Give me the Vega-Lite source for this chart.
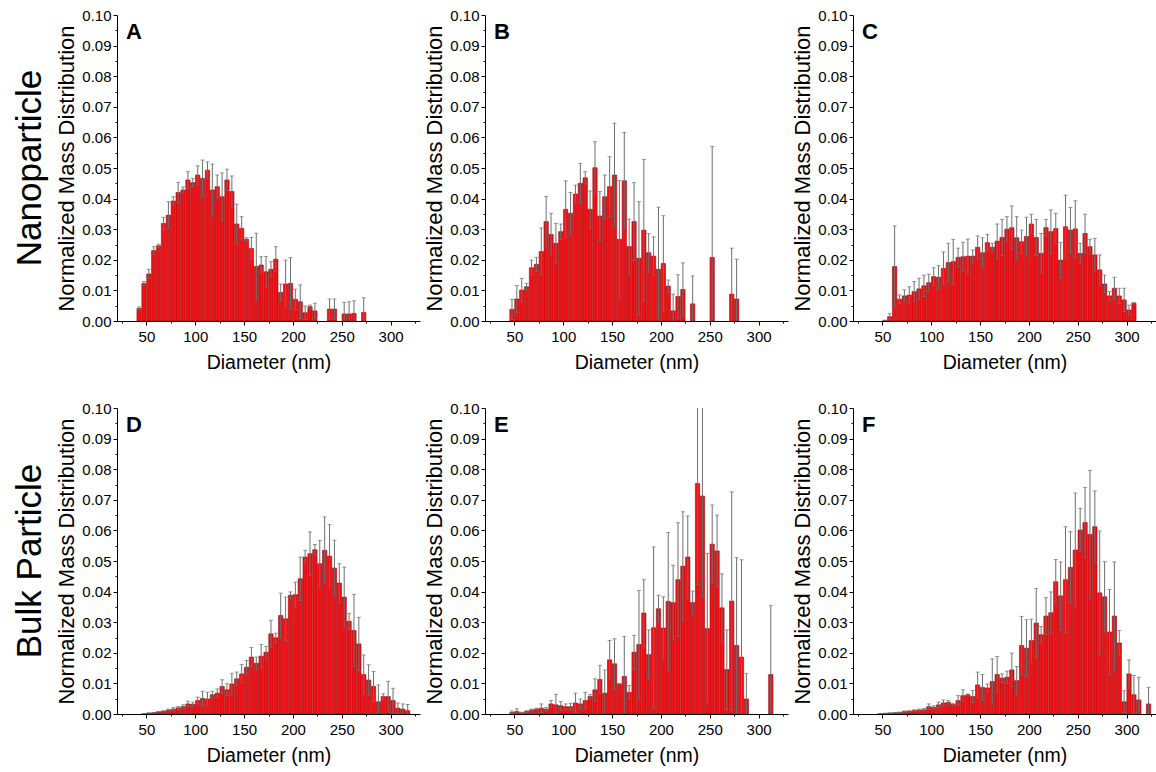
{
  "$schema": "https://vega.github.io/schema/vega-lite/v6.json",
  "background": "white",
  "padding": {"left": 12, "top": 8, "right": 0, "bottom": 5},
  "config": {
    "font": "Liberation Sans",
    "view": {"stroke": null},
    "axis": {
      "grid": false,
      "domainColor": "#000",
      "tickColor": "#000",
      "labelColor": "#000",
      "titleColor": "#000",
      "labelFont": "Liberation Sans",
      "titleFont": "Liberation Sans",
      "labelFontSize": 15,
      "titleFontWeight": "normal",
      "domainWidth": 1,
      "tickWidth": 1,
      "labelOverlap": false,
      "labelFlush": false,
      "labelBound": false
    },
    "axisX": {"titleFontSize": 19.5, "labelPadding": 4, "titlePadding": 9},
    "axisY": {"titleFontSize": 22, "labelPadding": 2, "titlePadding": 3}
  },
  "datasets": {
    "panels": [
      {"p": "A", "g": "Nanoparticle", "c": 1},
      {"p": "B", "g": "Nanoparticle", "c": 2},
      {"p": "C", "g": "Nanoparticle", "c": 3},
      {"p": "D", "g": "Bulk Particle", "c": 1},
      {"p": "E", "g": "Bulk Particle", "c": 2},
      {"p": "F", "g": "Bulk Particle", "c": 3}
    ]
  },
  "data": {"values": [
    {"p":"A","d":42.5,"v":0.0041,"e":0.0005},
    {"p":"A","d":47.5,"v":0.0123,"e":0.0006},
    {"p":"A","d":52.5,"v":0.0154,"e":0.0015},
    {"p":"A","d":57.5,"v":0.023,"e":0.0013},
    {"p":"A","d":62.5,"v":0.0246,"e":0.0005},
    {"p":"A","d":67.5,"v":0.0319,"e":0.002},
    {"p":"A","d":72.5,"v":0.0346,"e":0.0044},
    {"p":"A","d":77.5,"v":0.0392,"e":0.0014},
    {"p":"A","d":82.5,"v":0.042,"e":0.0033},
    {"p":"A","d":87.5,"v":0.0428,"e":0.001},
    {"p":"A","d":92.5,"v":0.0461,"e":0.0027},
    {"p":"A","d":97.5,"v":0.0452,"e":0.0014},
    {"p":"A","d":102.5,"v":0.0477,"e":0.003},
    {"p":"A","d":107.5,"v":0.0466,"e":0.006},
    {"p":"A","d":112.5,"v":0.0493,"e":0.0027},
    {"p":"A","d":117.5,"v":0.0428,"e":0.0085},
    {"p":"A","d":122.5,"v":0.0439,"e":0.0038},
    {"p":"A","d":127.5,"v":0.0406,"e":0.0078},
    {"p":"A","d":132.5,"v":0.0461,"e":0.0035},
    {"p":"A","d":137.5,"v":0.0423,"e":0.0051},
    {"p":"A","d":142.5,"v":0.0317,"e":0.0065},
    {"p":"A","d":147.5,"v":0.0303,"e":0.0038},
    {"p":"A","d":152.5,"v":0.0267,"e":0.0005},
    {"p":"A","d":157.5,"v":0.0237,"e":0.0036},
    {"p":"A","d":162.5,"v":0.0178,"e":0.0109},
    {"p":"A","d":167.5,"v":0.0183,"e":0.0027},
    {"p":"A","d":172.5,"v":0.0161,"e":0.005},
    {"p":"A","d":177.5,"v":0.0169,"e":0.0025},
    {"p":"A","d":182.5,"v":0.0202,"e":0.0041},
    {"p":"A","d":187.5,"v":0.0093,"e":0.0028},
    {"p":"A","d":192.5,"v":0.0121,"e":0.0078},
    {"p":"A","d":197.5,"v":0.0123,"e":0.0084},
    {"p":"A","d":202.5,"v":0.0071,"e":0.0033},
    {"p":"A","d":207.5,"v":0.0063,"e":0.0055},
    {"p":"A","d":212.5,"v":0.0027,"e":0.0022},
    {"p":"A","d":217.5,"v":0.0047,"e":0.0005},
    {"p":"A","d":222.5,"v":0.0033,"e":0.0025},
    {"p":"A","d":237.5,"v":0.0039,"e":0.0033},
    {"p":"A","d":242.5,"v":0.0039,"e":0.0033},
    {"p":"A","d":252.5,"v":0.0023,"e":0.0038},
    {"p":"A","d":257.5,"v":0.0023,"e":0.004},
    {"p":"A","d":262.5,"v":0.0025,"e":0.0041},
    {"p":"A","d":272.5,"v":0.0028,"e":0.0048},
    {"p":"B","d":47.5,"v":0.0038,"e":0.0033},
    {"p":"B","d":52.5,"v":0.0072,"e":0.0044},
    {"p":"B","d":57.5,"v":0.0101,"e":0.0038},
    {"p":"B","d":62.5,"v":0.0112,"e":0.0011},
    {"p":"B","d":67.5,"v":0.0174,"e":0.0025},
    {"p":"B","d":72.5,"v":0.0185,"e":0.0023},
    {"p":"B","d":77.5,"v":0.0227,"e":0.0077},
    {"p":"B","d":82.5,"v":0.0325,"e":0.0082},
    {"p":"B","d":87.5,"v":0.0283,"e":0.0069},
    {"p":"B","d":92.5,"v":0.0254,"e":0.0065},
    {"p":"B","d":97.5,"v":0.0292,"e":0.0025},
    {"p":"B","d":102.5,"v":0.0365,"e":0.0093},
    {"p":"B","d":107.5,"v":0.0352,"e":0.0068},
    {"p":"B","d":112.5,"v":0.0415,"e":0.0029},
    {"p":"B","d":117.5,"v":0.045,"e":0.0065},
    {"p":"B","d":122.5,"v":0.0468,"e":0.002},
    {"p":"B","d":127.5,"v":0.0365,"e":0.006},
    {"p":"B","d":132.5,"v":0.0501,"e":0.0085},
    {"p":"B","d":137.5,"v":0.0343,"e":0.008},
    {"p":"B","d":142.5,"v":0.0406,"e":0.0071},
    {"p":"B","d":147.5,"v":0.0439,"e":0.0098},
    {"p":"B","d":152.5,"v":0.0477,"e":0.0169},
    {"p":"B","d":157.5,"v":0.0267,"e":0.0192},
    {"p":"B","d":162.5,"v":0.0458,"e":0.0158},
    {"p":"B","d":167.5,"v":0.0243,"e":0.009},
    {"p":"B","d":172.5,"v":0.0325,"e":0.0127},
    {"p":"B","d":177.5,"v":0.0205,"e":0.0185},
    {"p":"B","d":182.5,"v":0.0297,"e":0.0231},
    {"p":"B","d":187.5,"v":0.0223,"e":0.0063},
    {"p":"B","d":192.5,"v":0.0212,"e":0.0063},
    {"p":"B","d":197.5,"v":0.0169,"e":0.0203},
    {"p":"B","d":202.5,"v":0.0188,"e":0.0156},
    {"p":"B","d":207.5,"v":0.0114,"e":0.002},
    {"p":"B","d":212.5,"v":0.0033,"e":0.0055},
    {"p":"B","d":217.5,"v":0.008,"e":0.0071},
    {"p":"B","d":222.5,"v":0.0103,"e":0.0087},
    {"p":"B","d":232.5,"v":0.0056,"e":0.0091},
    {"p":"B","d":252.5,"v":0.0208,"e":0.0362},
    {"p":"B","d":272.5,"v":0.0088,"e":0.015},
    {"p":"B","d":277.5,"v":0.0072,"e":0.013},
    {"p":"C","d":52.5,"v":0.0002,"e":0},
    {"p":"C","d":57.5,"v":0.0014,"e":0.001},
    {"p":"C","d":62.5,"v":0.0178,"e":0.0133},
    {"p":"C","d":67.5,"v":0.0071,"e":0.0014},
    {"p":"C","d":72.5,"v":0.0082,"e":0.002},
    {"p":"C","d":77.5,"v":0.0085,"e":0.0027},
    {"p":"C","d":82.5,"v":0.0096,"e":0.0033},
    {"p":"C","d":87.5,"v":0.0105,"e":0.0035},
    {"p":"C","d":92.5,"v":0.0115,"e":0.0035},
    {"p":"C","d":97.5,"v":0.0125,"e":0.0028},
    {"p":"C","d":102.5,"v":0.0145,"e":0.0029},
    {"p":"C","d":107.5,"v":0.0143,"e":0.0038},
    {"p":"C","d":112.5,"v":0.0172,"e":0.0054},
    {"p":"C","d":117.5,"v":0.0191,"e":0.0063},
    {"p":"C","d":122.5,"v":0.0194,"e":0.0073},
    {"p":"C","d":127.5,"v":0.0208,"e":0.003},
    {"p":"C","d":132.5,"v":0.021,"e":0.0047},
    {"p":"C","d":137.5,"v":0.0212,"e":0.0056},
    {"p":"C","d":142.5,"v":0.0212,"e":0.002},
    {"p":"C","d":147.5,"v":0.0241,"e":0.0037},
    {"p":"C","d":152.5,"v":0.0223,"e":0.0049},
    {"p":"C","d":157.5,"v":0.0256,"e":0.0027},
    {"p":"C","d":162.5,"v":0.0241,"e":0.0013},
    {"p":"C","d":167.5,"v":0.0261,"e":0.0056},
    {"p":"C","d":172.5,"v":0.0273,"e":0.0059},
    {"p":"C","d":177.5,"v":0.03,"e":0.0041},
    {"p":"C","d":182.5,"v":0.0305,"e":0.0071},
    {"p":"C","d":187.5,"v":0.0272,"e":0.0069},
    {"p":"C","d":192.5,"v":0.0259,"e":0.0038},
    {"p":"C","d":197.5,"v":0.0276,"e":0.0063},
    {"p":"C","d":202.5,"v":0.0317,"e":0.0032},
    {"p":"C","d":207.5,"v":0.0273,"e":0.0059},
    {"p":"C","d":212.5,"v":0.0221,"e":0.0065},
    {"p":"C","d":217.5,"v":0.0305,"e":0.0027},
    {"p":"C","d":222.5,"v":0.0292,"e":0.0071},
    {"p":"C","d":227.5,"v":0.0302,"e":0.005},
    {"p":"C","d":232.5,"v":0.0199,"e":0.0058},
    {"p":"C","d":237.5,"v":0.0308,"e":0.0103},
    {"p":"C","d":242.5,"v":0.0297,"e":0.0074},
    {"p":"C","d":247.5,"v":0.0301,"e":0.0092},
    {"p":"C","d":252.5,"v":0.0221,"e":0.0033},
    {"p":"C","d":257.5,"v":0.0286,"e":0.0063},
    {"p":"C","d":262.5,"v":0.0243,"e":0.0024},
    {"p":"C","d":267.5,"v":0.0216,"e":0.0054},
    {"p":"C","d":272.5,"v":0.0167,"e":0.0049},
    {"p":"C","d":277.5,"v":0.0121,"e":0.0029},
    {"p":"C","d":282.5,"v":0.0082,"e":0.0014},
    {"p":"C","d":287.5,"v":0.0107,"e":0.0036},
    {"p":"C","d":292.5,"v":0.0082,"e":0.0025},
    {"p":"C","d":297.5,"v":0.0069,"e":0.0038},
    {"p":"C","d":302.5,"v":0.0036,"e":0.0016},
    {"p":"C","d":307.5,"v":0.0058,"e":0.0002},
    {"p":"D","d":47.5,"v":0.0001,"e":0},
    {"p":"D","d":52.5,"v":0.0003,"e":0},
    {"p":"D","d":57.5,"v":0.0004,"e":0},
    {"p":"D","d":62.5,"v":0.0007,"e":0},
    {"p":"D","d":67.5,"v":0.0009,"e":0.0002},
    {"p":"D","d":72.5,"v":0.0013,"e":0.0003},
    {"p":"D","d":77.5,"v":0.0016,"e":0.0005},
    {"p":"D","d":82.5,"v":0.002,"e":0.0005},
    {"p":"D","d":87.5,"v":0.0024,"e":0.0006},
    {"p":"D","d":92.5,"v":0.0033,"e":0.0009},
    {"p":"D","d":97.5,"v":0.0032,"e":0.0007},
    {"p":"D","d":102.5,"v":0.0044,"e":0.0011},
    {"p":"D","d":107.5,"v":0.0051,"e":0.0023},
    {"p":"D","d":112.5,"v":0.0049,"e":0.0022},
    {"p":"D","d":117.5,"v":0.0063,"e":0.0011},
    {"p":"D","d":122.5,"v":0.0068,"e":0.0014},
    {"p":"D","d":127.5,"v":0.009,"e":0.0022},
    {"p":"D","d":132.5,"v":0.0079,"e":0.002},
    {"p":"D","d":137.5,"v":0.0098,"e":0.0035},
    {"p":"D","d":142.5,"v":0.0115,"e":0.0022},
    {"p":"D","d":147.5,"v":0.0131,"e":0.0031},
    {"p":"D","d":152.5,"v":0.0153,"e":0.0022},
    {"p":"D","d":157.5,"v":0.0186,"e":0.0031},
    {"p":"D","d":162.5,"v":0.0166,"e":0.002},
    {"p":"D","d":167.5,"v":0.0189,"e":0.0038},
    {"p":"D","d":172.5,"v":0.0202,"e":0.0019},
    {"p":"D","d":177.5,"v":0.0262,"e":0.0044},
    {"p":"D","d":182.5,"v":0.0249,"e":0.0015},
    {"p":"D","d":187.5,"v":0.0322,"e":0.0073},
    {"p":"D","d":192.5,"v":0.0311,"e":0.0071},
    {"p":"D","d":197.5,"v":0.0388,"e":0.0011},
    {"p":"D","d":202.5,"v":0.039,"e":0.0041},
    {"p":"D","d":207.5,"v":0.0442,"e":0.0071},
    {"p":"D","d":212.5,"v":0.0513,"e":0.0022},
    {"p":"D","d":217.5,"v":0.0524,"e":0.0071},
    {"p":"D","d":222.5,"v":0.0537,"e":0.0017},
    {"p":"D","d":227.5,"v":0.0491,"e":0.0076},
    {"p":"D","d":232.5,"v":0.0535,"e":0.0109},
    {"p":"D","d":237.5,"v":0.0516,"e":0.0103},
    {"p":"D","d":242.5,"v":0.0477,"e":0.0091},
    {"p":"D","d":247.5,"v":0.0428,"e":0.0063},
    {"p":"D","d":252.5,"v":0.0382,"e":0.0098},
    {"p":"D","d":257.5,"v":0.0303,"e":0.0026},
    {"p":"D","d":262.5,"v":0.0273,"e":0.0118},
    {"p":"D","d":267.5,"v":0.0229,"e":0.0087},
    {"p":"D","d":272.5,"v":0.0129,"e":0.0064},
    {"p":"D","d":277.5,"v":0.0111,"e":0.005},
    {"p":"D","d":282.5,"v":0.009,"e":0.0049},
    {"p":"D","d":287.5,"v":0.004,"e":0.0055},
    {"p":"D","d":292.5,"v":0.0057,"e":0.0009},
    {"p":"D","d":297.5,"v":0.0057,"e":0.005},
    {"p":"D","d":302.5,"v":0.0044,"e":0.004},
    {"p":"D","d":307.5,"v":0.0019,"e":0.0017},
    {"p":"D","d":312.5,"v":0.0016,"e":0.0017},
    {"p":"D","d":317.5,"v":0.0011,"e":0.002},
    {"p":"E","d":47.5,"v":0.0005,"e":0.0005},
    {"p":"E","d":52.5,"v":0.0008,"e":0.0009},
    {"p":"E","d":57.5,"v":0.0004,"e":0.0002},
    {"p":"E","d":62.5,"v":0.0008,"e":0.0003},
    {"p":"E","d":67.5,"v":0.0013,"e":0.0003},
    {"p":"E","d":72.5,"v":0.0016,"e":0.0003},
    {"p":"E","d":77.5,"v":0.0019,"e":0.0014},
    {"p":"E","d":82.5,"v":0.0016,"e":0.0005},
    {"p":"E","d":87.5,"v":0.0033,"e":0.0011},
    {"p":"E","d":92.5,"v":0.003,"e":0.0034},
    {"p":"E","d":97.5,"v":0.0027,"e":0.0014},
    {"p":"E","d":102.5,"v":0.0024,"e":0.0009},
    {"p":"E","d":107.5,"v":0.0024,"e":0.0011},
    {"p":"E","d":112.5,"v":0.0036,"e":0.0032},
    {"p":"E","d":117.5,"v":0.0033,"e":0.0016},
    {"p":"E","d":122.5,"v":0.0044,"e":0.0027},
    {"p":"E","d":127.5,"v":0.0057,"e":0.0007},
    {"p":"E","d":132.5,"v":0.0079,"e":0.0036},
    {"p":"E","d":137.5,"v":0.0113,"e":0.0046},
    {"p":"E","d":142.5,"v":0.0068,"e":0.0076},
    {"p":"E","d":147.5,"v":0.0177,"e":0.0063},
    {"p":"E","d":152.5,"v":0.0164,"e":0.0082},
    {"p":"E","d":157.5,"v":0.0098,"e":0.0002},
    {"p":"E","d":162.5,"v":0.0123,"e":0.013},
    {"p":"E","d":167.5,"v":0.0071,"e":0.0022},
    {"p":"E","d":172.5,"v":0.0202,"e":0.0055},
    {"p":"E","d":177.5,"v":0.0227,"e":0.0177},
    {"p":"E","d":182.5,"v":0.033,"e":0.0109},
    {"p":"E","d":187.5,"v":0.0194,"e":0.0081},
    {"p":"E","d":192.5,"v":0.0282,"e":0.0264},
    {"p":"E","d":197.5,"v":0.0344,"e":0.0044},
    {"p":"E","d":202.5,"v":0.0281,"e":0.0102},
    {"p":"E","d":207.5,"v":0.0368,"e":0.0225},
    {"p":"E","d":212.5,"v":0.0364,"e":0.0122},
    {"p":"E","d":217.5,"v":0.0439,"e":0.0186},
    {"p":"E","d":222.5,"v":0.0483,"e":0.0178},
    {"p":"E","d":227.5,"v":0.0513,"e":0.0134},
    {"p":"E","d":232.5,"v":0.0364,"e":0.0038},
    {"p":"E","d":237.5,"v":0.0753,"e":0.033},
    {"p":"E","d":242.5,"v":0.0712,"e":0.033},
    {"p":"E","d":247.5,"v":0.0279,"e":0.0246},
    {"p":"E","d":252.5,"v":0.0555,"e":0.0128},
    {"p":"E","d":257.5,"v":0.0533,"e":0.0117},
    {"p":"E","d":262.5,"v":0.0347,"e":0.0111},
    {"p":"E","d":267.5,"v":0.0145,"e":0.013},
    {"p":"E","d":272.5,"v":0.0369,"e":0.0357},
    {"p":"E","d":277.5,"v":0.0224,"e":0.0287},
    {"p":"E","d":282.5,"v":0.0186,"e":0.0318},
    {"p":"E","d":287.5,"v":0.0049,"e":0.0084},
    {"p":"E","d":312.5,"v":0.0129,"e":0.0226},
    {"p":"F","d":47.5,"v":0.0001,"e":0},
    {"p":"F","d":52.5,"v":0.0002,"e":0},
    {"p":"F","d":57.5,"v":0.0003,"e":0},
    {"p":"F","d":62.5,"v":0.0004,"e":0},
    {"p":"F","d":67.5,"v":0.0005,"e":0.0001},
    {"p":"F","d":72.5,"v":0.0008,"e":0.0002},
    {"p":"F","d":77.5,"v":0.0009,"e":0.0002},
    {"p":"F","d":82.5,"v":0.0011,"e":0.0003},
    {"p":"F","d":87.5,"v":0.0013,"e":0.0003},
    {"p":"F","d":92.5,"v":0.0014,"e":0.0004},
    {"p":"F","d":97.5,"v":0.0024,"e":0.0009},
    {"p":"F","d":102.5,"v":0.0022,"e":0.0005},
    {"p":"F","d":107.5,"v":0.003,"e":0.0009},
    {"p":"F","d":112.5,"v":0.0036,"e":0.001},
    {"p":"F","d":117.5,"v":0.0038,"e":0.0006},
    {"p":"F","d":122.5,"v":0.0031,"e":0.0004},
    {"p":"F","d":127.5,"v":0.0044,"e":0.0016},
    {"p":"F","d":132.5,"v":0.006,"e":0.0019},
    {"p":"F","d":137.5,"v":0.0063,"e":0.0002},
    {"p":"F","d":142.5,"v":0.0057,"e":0.002},
    {"p":"F","d":147.5,"v":0.0095,"e":0.0042},
    {"p":"F","d":152.5,"v":0.0087,"e":0.0042},
    {"p":"F","d":157.5,"v":0.0085,"e":0.0013},
    {"p":"F","d":162.5,"v":0.0106,"e":0.0074},
    {"p":"F","d":167.5,"v":0.0129,"e":0.0059},
    {"p":"F","d":172.5,"v":0.0117,"e":0.0014},
    {"p":"F","d":177.5,"v":0.012,"e":0.002},
    {"p":"F","d":182.5,"v":0.0144,"e":0.0055},
    {"p":"F","d":187.5,"v":0.0109,"e":0.0046},
    {"p":"F","d":192.5,"v":0.0224,"e":0.0095},
    {"p":"F","d":197.5,"v":0.0215,"e":0.0093},
    {"p":"F","d":202.5,"v":0.024,"e":0.007},
    {"p":"F","d":207.5,"v":0.0297,"e":0.0113},
    {"p":"F","d":212.5,"v":0.0259,"e":0.0027},
    {"p":"F","d":217.5,"v":0.032,"e":0.006},
    {"p":"F","d":222.5,"v":0.0331,"e":0.0068},
    {"p":"F","d":227.5,"v":0.0432,"e":0.0073},
    {"p":"F","d":232.5,"v":0.0386,"e":0.0111},
    {"p":"F","d":237.5,"v":0.0439,"e":0.0173},
    {"p":"F","d":242.5,"v":0.0479,"e":0.0117},
    {"p":"F","d":247.5,"v":0.0536,"e":0.0186},
    {"p":"F","d":252.5,"v":0.0601,"e":0.0071},
    {"p":"F","d":257.5,"v":0.0626,"e":0.0114},
    {"p":"F","d":262.5,"v":0.0587,"e":0.0209},
    {"p":"F","d":267.5,"v":0.0612,"e":0.0117},
    {"p":"F","d":272.5,"v":0.0396,"e":0.0202},
    {"p":"F","d":277.5,"v":0.0383,"e":0.0115},
    {"p":"F","d":282.5,"v":0.0268,"e":0.0139},
    {"p":"F","d":287.5,"v":0.032,"e":0.0177},
    {"p":"F","d":292.5,"v":0.0232,"e":0.0041},
    {"p":"F","d":297.5,"v":0.004,"e":0.0036},
    {"p":"F","d":302.5,"v":0.0131,"e":0.0046},
    {"p":"F","d":307.5,"v":0.0063,"e":0.0063},
    {"p":"F","d":312.5,"v":0.0046,"e":0.0074},
    {"p":"F","d":322.5,"v":0.0033,"e":0.0054}
  ]},
  "transform": [
    {"lookup": "p", "from": {"data": {"name": "panels"}, "key": "p", "fields": ["g", "c"]}}
  ],
  "bounds": "flush",
  "spacing": {"row": 87, "column": 65},
  "facet": {
    "row": {
      "field": "g", "type": "nominal",
      "sort": ["Nanoparticle", "Bulk Particle"],
      "header": {"title": null, "labelAngle": -90, "labelFontSize": 35, "labelFont": "Liberation Sans", "labelColor": "#000", "labelOrient": "left", "labelPadding": 52, "labelAlign": "center"}
    },
    "column": {"field": "c", "type": "ordinal", "header": null}
  },
  "spec": {
    "width": 303,
    "height": 306,
    "layer": [
      {
        "mark": {"type": "bar", "width": 4.3, "color": "#ec1218", "stroke": "#a00000", "strokeWidth": 0.6, "clip": true},
        "encoding": {
          "x": {"field": "d", "type": "quantitative", "scale": {"domain": [25, 325], "nice": false},
                "axis": {"values": [25, 50, 75, 100, 125, 150, 175, 200, 225, 250, 275, 300, 325],
                         "labelExpr": "datum.value % 50 == 0 ? format(datum.value, 'd') : ''",
                         "tickSize": {"condition": {"test": "datum.value % 50 == 0", "value": 4}, "value": 2},
                         "title": "Diameter (nm)"}},
          "y": {"field": "v", "type": "quantitative", "scale": {"domain": [0, 0.1], "nice": false},
                "axis": {"values": [0, 0.005, 0.01, 0.015, 0.02, 0.025, 0.03, 0.035, 0.04, 0.045, 0.05, 0.055, 0.06, 0.065, 0.07, 0.075, 0.08, 0.085, 0.09, 0.095, 0.1],
                         "labelExpr": "round(datum.value * 1000) % 10 == 0 ? format(datum.value, '.2f') : ''",
                         "tickSize": {"condition": {"test": "round(datum.value * 1000) % 10 == 0", "value": 4}, "value": 2},
                         "title": "Normalized Mass Distribution"}}
        }
      },
      {
        "mark": {"type": "errorbar", "ticks": {"size": 4}, "color": "#6e6e6e", "thickness": 1, "clip": true},
        "encoding": {
          "x": {"field": "d", "type": "quantitative",
                "axis": {"values": [25, 50, 75, 100, 125, 150, 175, 200, 225, 250, 275, 300, 325],
                         "labelExpr": "datum.value % 50 == 0 ? format(datum.value, 'd') : ''",
                         "tickSize": {"condition": {"test": "datum.value % 50 == 0", "value": 4}, "value": 2},
                         "title": "Diameter (nm)"}},
          "y": {"field": "v", "type": "quantitative",
                "axis": {"values": [0, 0.005, 0.01, 0.015, 0.02, 0.025, 0.03, 0.035, 0.04, 0.045, 0.05, 0.055, 0.06, 0.065, 0.07, 0.075, 0.08, 0.085, 0.09, 0.095, 0.1],
                         "labelExpr": "round(datum.value * 1000) % 10 == 0 ? format(datum.value, '.2f') : ''",
                         "tickSize": {"condition": {"test": "round(datum.value * 1000) % 10 == 0", "value": 4}, "value": 2},
                         "title": "Normalized Mass Distribution"}},
          "yError": {"field": "e"}
        }
      },
      {
        "transform": [{"aggregate": [{"op": "count", "as": "n"}], "groupby": ["p", "g", "c"]}],
        "mark": {"type": "text", "fontSize": 22, "fontWeight": "bold", "align": "left", "baseline": "middle", "color": "#000"},
        "encoding": {
          "text": {"field": "p"},
          "x": {"datum": 29, "type": "quantitative",
                "axis": {"values": [25, 50, 75, 100, 125, 150, 175, 200, 225, 250, 275, 300, 325],
                         "labelExpr": "datum.value % 50 == 0 ? format(datum.value, 'd') : ''",
                         "tickSize": {"condition": {"test": "datum.value % 50 == 0", "value": 4}, "value": 2},
                         "title": "Diameter (nm)"}},
          "y": {"datum": 0.0945, "type": "quantitative",
                "axis": {"values": [0, 0.005, 0.01, 0.015, 0.02, 0.025, 0.03, 0.035, 0.04, 0.045, 0.05, 0.055, 0.06, 0.065, 0.07, 0.075, 0.08, 0.085, 0.09, 0.095, 0.1],
                         "labelExpr": "round(datum.value * 1000) % 10 == 0 ? format(datum.value, '.2f') : ''",
                         "tickSize": {"condition": {"test": "round(datum.value * 1000) % 10 == 0", "value": 4}, "value": 2},
                         "title": "Normalized Mass Distribution"}}
        }
      }
    ]
  },
  "resolve": {"axis": {"x": "independent", "y": "independent"}}
}
